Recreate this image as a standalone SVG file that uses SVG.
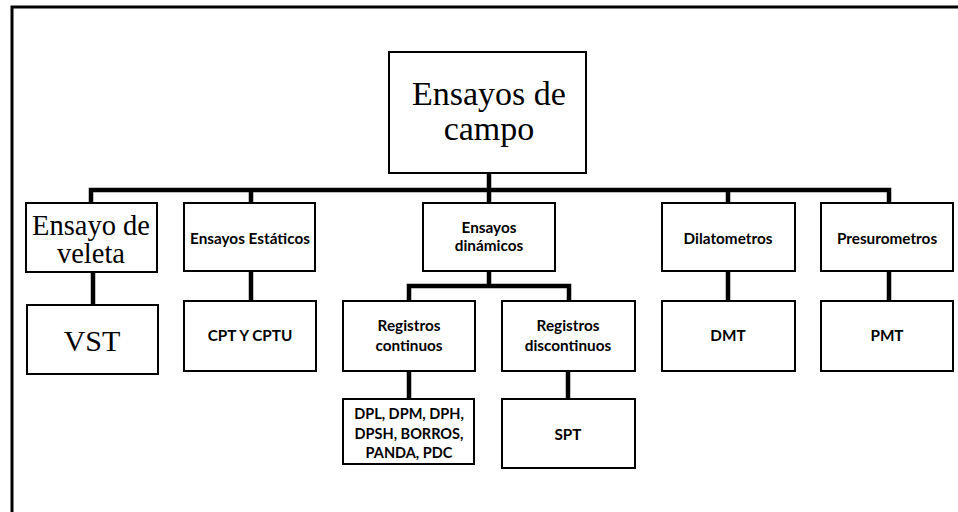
<svg xmlns="http://www.w3.org/2000/svg" width="958" height="512" viewBox="0 0 958 512">
<style>
.box{fill:#fff;stroke:#000;stroke-width:2}
.serif{font-family:"Liberation Serif","Times New Roman",serif;fill:#000;text-anchor:middle}
.sans{font-family:Lato,"Liberation Sans",sans-serif;font-weight:700;font-size:15.3px;fill:#000;text-anchor:middle}
.small{font-size:14.5px}
.conn{fill:none;stroke:#000;stroke-width:4.5;stroke-linejoin:miter;stroke-linecap:butt}
</style>
<rect width="958" height="512" fill="#fff"/>
<path d="M12,512 V7 H958" fill="none" stroke="#000" stroke-width="3"/>
<g id="connectors">
<path class="conn" d="M489,173 V190"/>
<path class="conn" d="M91,203 V190 H889 V203"/>
<path class="conn" d="M251,190 V203 M489,190 V203 M728,190 V203"/>
<path class="conn" d="M93,272 V305"/>
<path class="conn" d="M251,271 V301"/>
<path class="conn" d="M489,271 V286"/>
<path class="conn" d="M409,301 V286 H569 V301"/>
<path class="conn" d="M728,271 V301"/>
<path class="conn" d="M889,271 V301"/>
<path class="conn" d="M409,371 V399"/>
<path class="conn" d="M568,371 V399"/>
</g>
<g id="root">
<rect class="box" x="389" y="52" width="197" height="121"/>
<text class="serif" font-size="34" x="489" y="105">Ensayos de</text>
<text class="serif" font-size="34" x="489" y="140">campo</text>
</g>
<g id="veleta">
<rect class="box" x="26" y="203" width="131" height="69"/>
<text class="serif" font-size="28.5" x="91" y="235">Ensayo de</text>
<text class="serif" font-size="28.5" x="91" y="263">veleta</text>
</g>
<g id="estaticos">
<rect class="box" x="184" y="203" width="131" height="68"/>
<text class="sans" x="250" y="244">Ensayos Estáticos</text>
</g>
<g id="dinamicos">
<rect class="box" x="423" y="203" width="132" height="68"/>
<text class="sans" x="489" y="233">Ensayos</text>
<text class="sans" x="489" y="251">dinámicos</text>
</g>
<g id="dilatometros">
<rect class="box" x="662" y="203" width="133" height="68"/>
<text class="sans" x="728" y="244">Dilatometros</text>
</g>
<g id="presurometros">
<rect class="box" x="821" y="203" width="132" height="68"/>
<text class="sans" x="887" y="244">Presurometros</text>
</g>
<g id="vst">
<rect class="box" x="27" y="305" width="131" height="69"/>
<text class="serif" font-size="30" x="92" y="351">VST</text>
</g>
<g id="cpt">
<rect class="box" x="184" y="301" width="132" height="70"/>
<text class="sans" x="250" y="341">CPT Y CPTU</text>
</g>
<g id="continuos">
<rect class="box" x="343" y="301" width="132" height="70"/>
<text class="sans" x="409" y="331">Registros</text>
<text class="sans" x="409" y="351">continuos</text>
</g>
<g id="discontinuos">
<rect class="box" x="502" y="301" width="133" height="70"/>
<text class="sans" x="568" y="331">Registros</text>
<text class="sans" x="568" y="351">discontinuos</text>
</g>
<g id="dmt">
<rect class="box" x="662" y="301" width="133" height="70"/>
<text class="sans" x="728" y="341">DMT</text>
</g>
<g id="pmt">
<rect class="box" x="821" y="301" width="132" height="70"/>
<text class="sans" x="887" y="341">PMT</text>
</g>
<g id="dpl">
<rect class="box" x="343" y="399" width="131" height="65"/>
<text class="sans small" x="409" y="419">DPL, DPM, DPH,</text>
<text class="sans small" x="409" y="438.5">DPSH, BORROS,</text>
<text class="sans small" x="409" y="458">PANDA, PDC</text>
</g>
<g id="spt">
<rect class="box" x="502" y="399" width="133" height="69"/>
<text class="sans" x="568" y="440">SPT</text>
</g>
</svg>
